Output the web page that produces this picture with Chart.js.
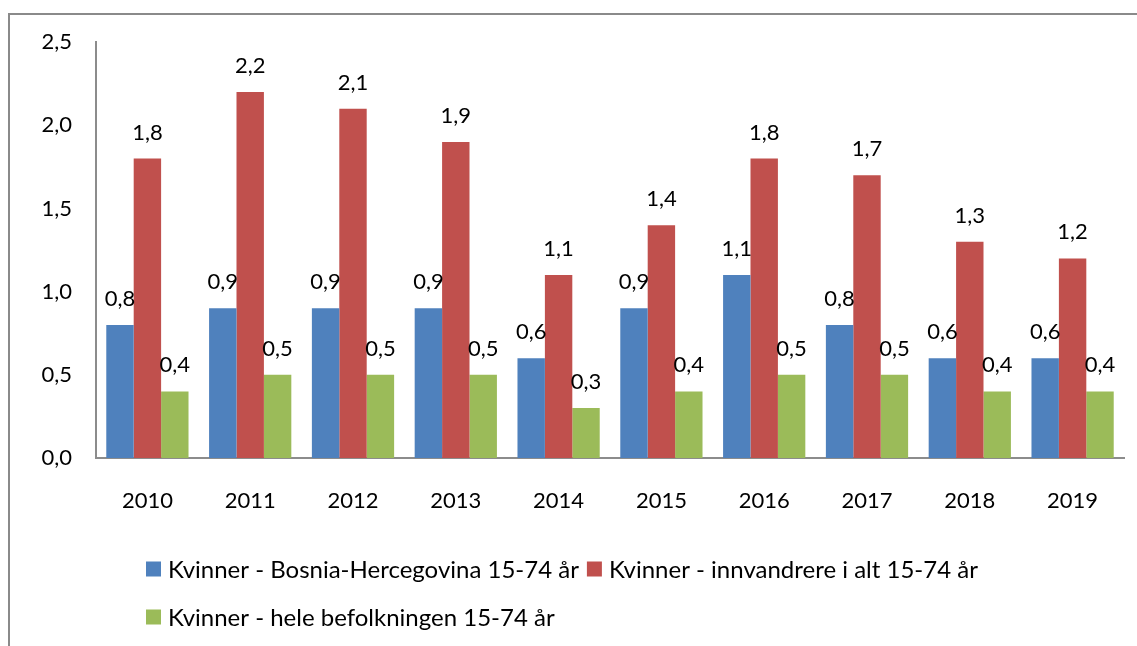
<!DOCTYPE html>
<html>
<head>
<meta charset="utf-8">
<script src="https://cdn.jsdelivr.net/npm/chart.js@4"></script>
<style>
  html, body { margin: 0; padding: 0; background: #fff; overflow: hidden; }
  #frame {
    position: absolute; left: 8px; top: 13px;
    width: 1127px; height: 640px;
    border: 2px solid #8a8a8a;
  }
  #barChart { position: absolute; left: 10px; top: 5px; display: block; }
</style>
</head>
<body>
<div id="frame"></div>
<canvas id="barChart" width="1127" height="641"></canvas>
<script>
const years = ['2010', '2011', '2012', '2013', '2014', '2015', '2016', '2017', '2018', '2019'];
const bosnia = [0.8, 0.9, 0.9, 0.9, 0.6, 0.9, 1.1, 0.8, 0.6, 0.6];
const innvandrere = [1.8, 2.2, 2.1, 1.9, 1.1, 1.4, 1.8, 1.7, 1.3, 1.2];
const heleBefolkningen = [0.4, 0.5, 0.5, 0.5, 0.3, 0.4, 0.5, 0.5, 0.4, 0.4];
const seriesNames = [
  'Kvinner - Bosnia-Hercegovina 15-74 år',
  'Kvinner - innvandrere i alt 15-74 år',
  'Kvinner - hele befolkningen 15-74 år',
];

const FONT = 'Lato, "Open Sans", sans-serif';
const fmt = (v) => Number(v).toFixed(1).replace('.', ',');

// value labels above each bar
const valueLabels = {
  id: 'valueLabels',
  afterDatasetsDraw(chart) {
    const ctx = chart.ctx;
    ctx.save();
    ctx.font = '22px ' + FONT;
    ctx.fillStyle = '#000';
    ctx.textAlign = 'center';
    ctx.textBaseline = 'alphabetic';
    chart.data.datasets.forEach((ds, i) => {
      chart.getDatasetMeta(i).data.forEach((bar, j) => {
        ctx.fillText(fmt(ds.data[j]), bar.x, bar.y - 19);
      });
    });
    ctx.restore();
  },
};

// legend laid out like the original: left aligned rows under the axis
const legendRows = {
  id: 'legendRows',
  afterDraw(chart) {
    const ctx = chart.ctx;
    ctx.save();
    ctx.font = '24px ' + FONT;
    ctx.textBaseline = 'middle';
    ctx.textAlign = 'left';
    const startX = 136;
    const maxX = 1060;
    let x = startX;
    let y = 564;
    chart.data.datasets.forEach((ds) => {
      const w = 15 + 7 + ctx.measureText(ds.label).width;
      if (x > startX && x + w > maxX) {
        x = startX;
        y += 48;
      }
      ctx.fillStyle = ds.backgroundColor;
      ctx.fillRect(x, y - 7.5, 15, 15);
      ctx.fillStyle = '#000';
      ctx.fillText(ds.label, x + 22, y + 1);
      x += w + 8;
    });
    ctx.restore();
  },
};

const ctx = document.getElementById('barChart');
new Chart(ctx, {
  type: 'bar',
  data: {
    labels: years,
    datasets: [
      { label: seriesNames[0], data: bosnia, backgroundColor: '#4F81BD' },
      { label: seriesNames[1], data: innvandrere, backgroundColor: '#C0504D' },
      { label: seriesNames[2], data: heleBefolkningen, backgroundColor: '#9BBB59' },
    ],
  },
  options: {
    responsive: false,
    animation: false,
    categoryPercentage: 0.8,
    barPercentage: 1.0,
    layout: {
      padding: { left: 0, right: 13, top: 17, bottom: 128 },
    },
    plugins: {
      legend: { display: false },
      tooltip: { enabled: false },
    },
    scales: {
      x: {
        grid: { display: false, drawTicks: false },
        border: { display: true, color: '#8c8c8c', width: 2 },
        ticks: { color: '#000', font: { family: FONT, size: 22 }, padding: 30 },
        afterFit(scale) { scale.height = 60; },
      },
      y: {
        min: 0,
        max: 2.5,
        grid: { display: false, drawTicks: false },
        border: { display: true, color: '#8c8c8c', width: 2 },
        ticks: {
          stepSize: 0.5,
          color: '#000',
          font: { family: FONT, size: 22 },
          padding: 24,
          callback: (v) => fmt(v),
        },
        afterFit(scale) { scale.width = 86; },
      },
    },
  },
  plugins: [valueLabels, legendRows],
});
</script>
</body>
</html>
